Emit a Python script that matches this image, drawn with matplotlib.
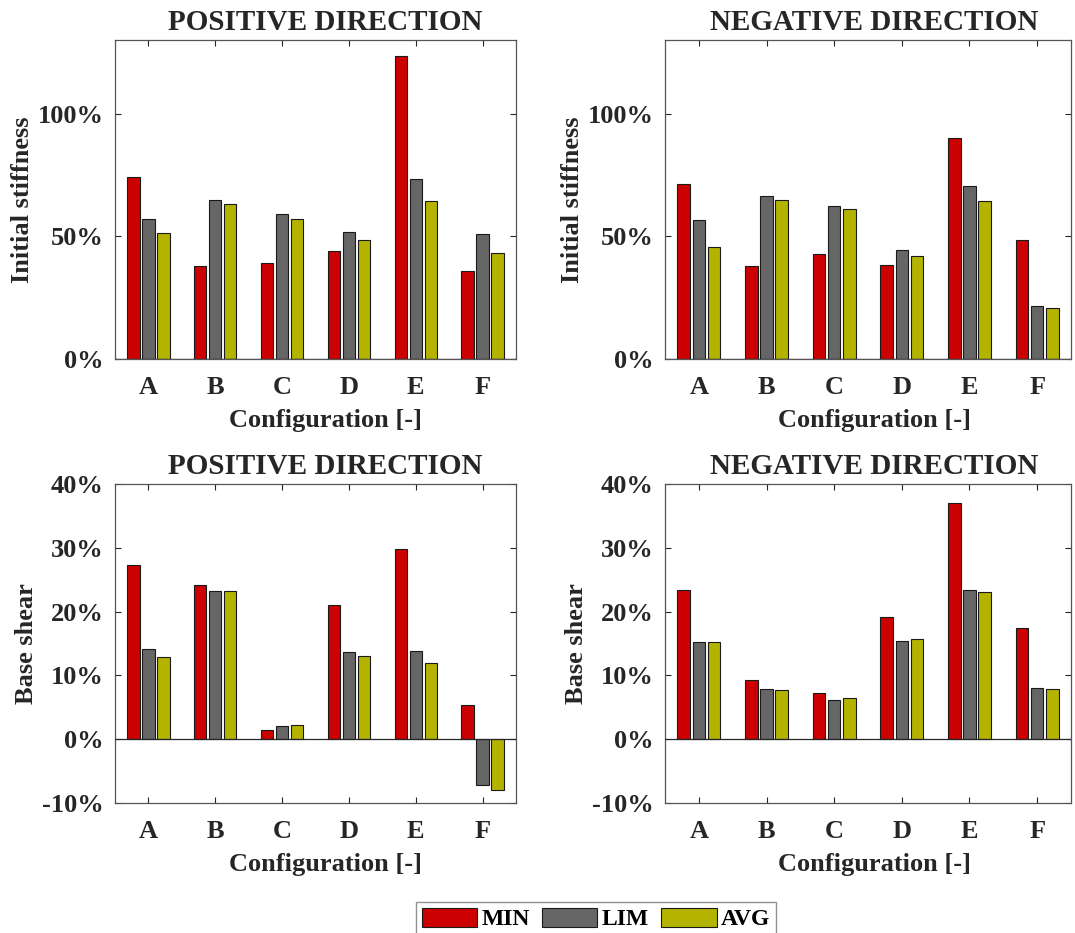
import matplotlib
matplotlib.use("Agg")
import matplotlib.pyplot as plt
from matplotlib.ticker import FuncFormatter
import numpy as np

plt.rcParams['font.family'] = ['Liberation Serif', 'DejaVu Serif']
plt.rcParams['font.weight'] = 'bold'
plt.rcParams['text.color'] = '#262626'
plt.rcParams['axes.labelcolor'] = '#262626'
plt.rcParams['xtick.color'] = '#262626'
plt.rcParams['ytick.color'] = '#262626'

configs = ['A', 'B', 'C', 'D', 'E', 'F']
series = ['MIN', 'LIM', 'AVG']
colors = ['#cc0000', '#666666', '#b3b300']

# initial stiffness [%]
stiff_pos_min = [74.1, 37.9, 39.2, 44.2, 123.3, 36.0]
stiff_pos_lim = [56.9, 64.9, 59.1, 51.8, 73.2, 51.1]
stiff_pos_avg = [51.5, 63.3, 57.2, 48.5, 64.5, 43.1]
stiff_neg_min = [71.5, 37.8, 42.8, 38.2, 90.2, 48.4]
stiff_neg_lim = [56.5, 66.4, 62.2, 44.3, 70.6, 21.4]
stiff_neg_avg = [45.5, 65.0, 61.0, 42.0, 64.2, 20.9]

# base shear [%]
shear_pos_min = [27.3, 24.2, 1.5, 21.0, 29.8, 5.3]
shear_pos_lim = [14.1, 23.3, 2.0, 13.7, 13.8, -7.2]
shear_pos_avg = [12.9, 23.2, 2.2, 13.0, 12.0, -8.0]
shear_neg_min = [23.4, 9.3, 7.2, 19.2, 37.1, 17.5]
shear_neg_lim = [15.2, 7.8, 6.1, 15.35, 23.4, 8.0]
shear_neg_avg = [15.2, 7.7, 6.4, 15.7, 23.1, 7.9]

W, H = 1075, 933
fig = plt.figure(figsize=(W / 100, H / 100), dpi=100)


def px_axes(x0, x1, y0, y1):
    return fig.add_axes([x0 / W, 1 - y1 / H, (x1 - x0) / W, (y1 - y0) / H])


def draw(ax, data, title, ylabel, ylim, yticks, xshift):
    x = np.arange(1, len(configs) + 1)
    offs = [-0.224, 0.0, 0.224]
    for vals, off, c, name in zip(data, offs, colors, series):
        ax.bar(x + off, vals, width=0.184, color=c, edgecolor='#1a1a1a',
               linewidth=0.8, label=name, zorder=2)
    ax.axhline(0, color='#262626', lw=0.9, zorder=3)
    ax.set_xlim(0.5, 6.5)
    ax.set_ylim(*ylim)
    ax.set_xticks(x)
    ax.set_xticklabels(configs)
    ax.set_yticks(yticks)
    ax.yaxis.set_major_formatter(FuncFormatter(lambda v, p: f'{v:.0f}%'))
    ax.tick_params(direction='in', length=4, width=0.8, top=True, right=True,
                   labelsize=19)
    ax.tick_params(axis='x', pad=12)
    ax.tick_params(axis='y', pad=8)
    for lab in ax.get_xticklabels() + ax.get_yticklabels():
        lab.set_fontweight('bold')
    for sp in ax.spines.values():
        sp.set_color('#555555')
        sp.set_linewidth(0.9)
    ax.set_title(title, fontsize=21, fontweight='bold', pad=7, x=0.5 + xshift)
    ax.set_xlabel('Configuration [-]', fontsize=19, fontweight='bold', labelpad=7.5)
    ax.xaxis.label.set_x(0.5 + xshift)
    ax.set_ylabel(ylabel, fontsize=19, fontweight='bold', labelpad=3)


ax1 = px_axes(115, 516, 40, 359)
ax2 = px_axes(665, 1071, 40, 359)
ax3 = px_axes(115, 516, 484, 803)
ax4 = px_axes(665, 1071, 484, 803)

draw(ax1, [stiff_pos_min, stiff_pos_lim, stiff_pos_avg], 'POSITIVE DIRECTION',
     'Initial stiffness', (0, 130), [0, 50, 100], 0.025)
draw(ax2, [stiff_neg_min, stiff_neg_lim, stiff_neg_avg], 'NEGATIVE DIRECTION',
     'Initial stiffness', (0, 130), [0, 50, 100], 0.015)
draw(ax3, [shear_pos_min, shear_pos_lim, shear_pos_avg], 'POSITIVE DIRECTION',
     'Base shear', (-10, 40), [-10, 0, 10, 20, 30, 40], 0.025)
draw(ax4, [shear_neg_min, shear_neg_lim, shear_neg_avg], 'NEGATIVE DIRECTION',
     'Base shear', (-10, 40), [-10, 0, 10, 20, 30, 40], 0.015)

handles, labels = ax1.get_legend_handles_labels()
leg = fig.legend(handles, labels, loc='upper center', ncol=3,
                 bbox_to_anchor=(596 / W, 1 - 902 / H), frameon=True,
                 fancybox=False, edgecolor='#777777', fontsize=17,
                 handlelength=2.35, handleheight=0.85, handletextpad=0.2,
                 columnspacing=0.5, borderpad=0.25, borderaxespad=0)
for t in leg.get_texts():
    t.set_fontweight('bold')
    t.set_color('black')

fig.savefig('out.png', dpi=100)
